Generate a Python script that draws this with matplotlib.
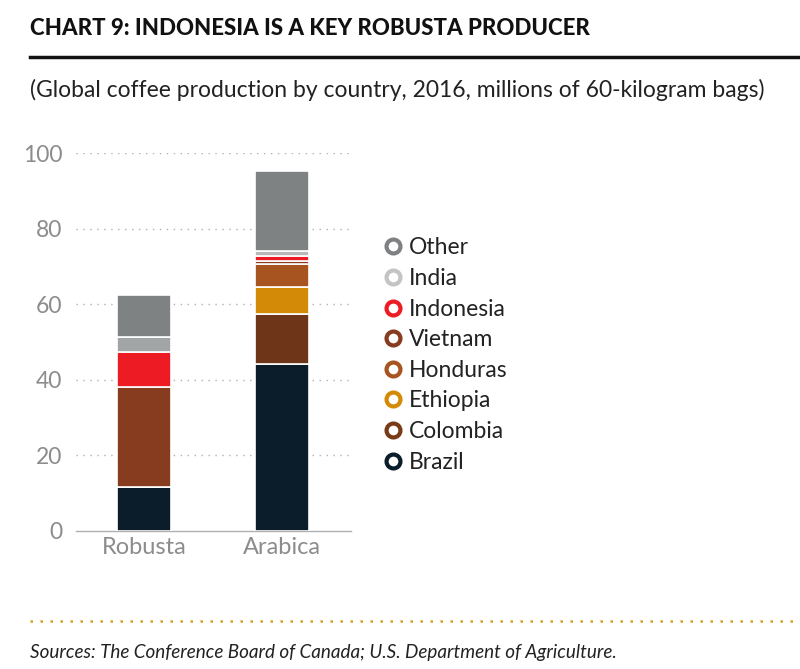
import numpy as np
import matplotlib.pyplot as plt
from matplotlib.lines import Line2D

plt.rcParams['font.family'] = ['Lato', 'DejaVu Sans']

types = ['Robusta', 'Arabica']
countries = ['Brazil', 'Colombia', 'Ethiopia', 'Honduras', 'Vietnam', 'Indonesia', 'India', 'Other']
robusta = [11.7, 0, 0, 0, 26.5, 9.1, 4.1, 11.0]
arabica = [44.2, 13.2, 7.2, 6.0, 0.9, 1.2, 1.5, 21.0]
bar_colors = {
    'Brazil': ['#0b1c2a', '#0b1c2a'],
    'Colombia': ['#6e3518', '#6e3518'],
    'Ethiopia': ['#d38a06', '#d38a06'],
    'Honduras': ['#a85420', '#a85420'],
    'Vietnam': ['#873b1f', '#873b1f'],
    'Indonesia': ['#ed1c24', '#ed1c24'],
    'India': ['#a2a5a6', '#b8b8b8'],
    'Other': ['#7f8283', '#7f8283'],
}
legend_order = ['Other', 'India', 'Indonesia', 'Vietnam', 'Honduras', 'Ethiopia', 'Colombia', 'Brazil']
legend_colors = {'Other': '#7f8283', 'India': '#c4c4c4', 'Indonesia': '#ed1c24', 'Vietnam': '#873b1f',
                 'Honduras': '#a85420', 'Ethiopia': '#d38a06', 'Colombia': '#7a3a17', 'Brazil': '#0b1c2a'}

fig = plt.figure(figsize=(8, 6.69), dpi=100)
ax = fig.add_axes([0.095, 0.2063, 0.344, 0.565])

x = np.arange(len(types))
bottom = np.zeros(len(types))
for i, c in enumerate(countries):
    vals = np.array([robusta[i], arabica[i]])
    ax.bar(x, vals, 0.39, bottom=bottom, color=bar_colors[c], edgecolor='white', linewidth=1.2, zorder=3)
    bottom += vals

ax.set_xlim(-0.493, 1.5)
ax.set_ylim(0, 100)
ax.set_yticks([0, 20, 40, 60, 80, 100])
for yv in [20, 40, 60, 80, 100]:
    ax.axhline(yv, color='#b0b0b0', linestyle=(0, (1, 4)), linewidth=1, zorder=1)
for s in ['top', 'right', 'left']:
    ax.spines[s].set_visible(False)
ax.spines['bottom'].set_color('#b0b0b0')
ax.spines['bottom'].set_linewidth(1)
ax.tick_params(axis='y', length=0, pad=10, labelsize=16.5, labelcolor='#8c8c8c')
ax.tick_params(axis='x', length=0, pad=4, labelsize=17, labelcolor='#8c8c8c')
ax.set_xticks(x)
ax.set_xticklabels(types)

handles = [Line2D([], [], marker='o', linestyle='none', markersize=10, markeredgewidth=3,
                  markerfacecolor='white', markeredgecolor=legend_colors[c]) for c in legend_order]
leg = fig.legend(handles, legend_order, loc='upper left', bbox_to_anchor=(0.468, 0.659), frameon=False,
                 fontsize=16.5, labelspacing=0.42, handletextpad=0.3, handlelength=0.8, borderaxespad=0)
for t in leg.get_texts():
    t.set_color('#222222')

fig.text(0.0375, 0.958, 'CHART 9: INDONESIA IS A KEY ROBUSTA PRODUCER', fontsize=16, fontweight='black',
         color='#111111', va='center')
fig.add_artist(Line2D([0.0375, 1.0], [0.915, 0.915], color='#111111', linewidth=2.5))
fig.text(0.0375, 0.866, '(Global coffee production by country, 2016, millions of 60-kilogram bags)',
         fontsize=16.5, color='#222222', va='center')
fig.add_artist(Line2D([0.0375, 1.0], [0.072, 0.072], color='#d4a020', linewidth=1.8, linestyle=(0, (1, 3))))
fig.text(0.0375, 0.025, 'Sources: The Conference Board of Canada; U.S. Department of Agriculture.',
         fontsize=13.6, style='italic', color='#222222', va='center')

fig.savefig('out.png', dpi=100)
